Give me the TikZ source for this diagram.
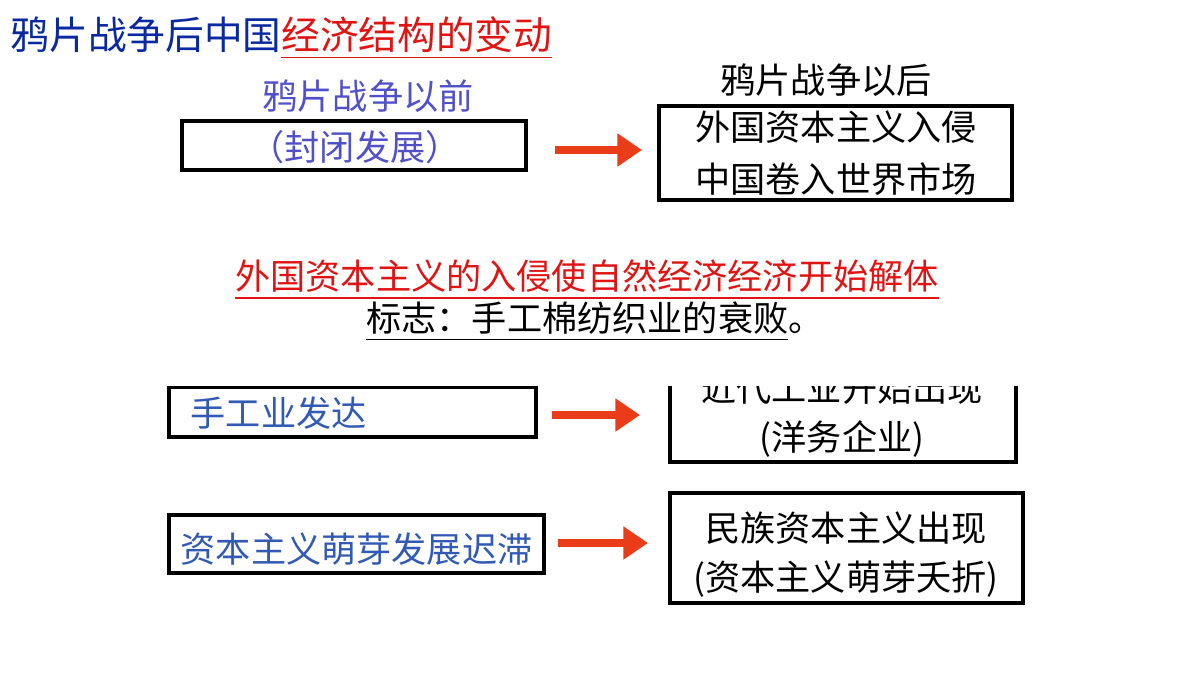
\documentclass[tikz,border=0pt]{standalone}
\usepackage{fontspec}
\setmainfont{Noto Sans CJK SC}
\usetikzlibrary{arrows.meta}
\definecolor{tblue}{RGB}{10,40,160}
\definecolor{lblue}{RGB}{80,80,200}
\definecolor{rblue}{RGB}{50,90,180}
\definecolor{tred}{RGB}{225,20,20}
\definecolor{aorange}{RGB}{235,60,25}
\tikzset{
 bx/.style={draw=black,line width=1.3pt},
 arr/.style={draw=aorange,line width=2.2pt,-{Triangle[length=7pt,width=9pt]}},
 t/.style={inner sep=0pt,font=\fontsize{10}{12}\selectfont},
}
\begin{document}
\begin{tikzpicture}[x=0.01cm,y=-0.01cm]
\useasboundingbox (0,0) rectangle (1200,675);
\node[t,anchor=west,font=\fontsize{11}{13}\selectfont] (title) at (10,38) {\textcolor{tblue}{鸦片战争后中国}\textcolor{tred}{\underline{经济结构的变动}}};
% row 1
\node[t,text=lblue] (l1) at (368,96) {鸦片战争以前};
\draw[bx] (182,121) rectangle (526,170);
\node[t,text=lblue] (b1) at (355,147) {（封闭发展）};
\node[t] (l2) at (826,80) {鸦片战争以后};
\draw[bx] (659,106) rectangle (1012,200);
\node[t] (b2a) at (836,127) {外国资本主义入侵};
\node[t] (b2b) at (836,179) {中国卷入世界市场};
\coordinate (a1s) at (555,150); \coordinate (a1e) at (642,150);
\draw[arr] (a1s) -- (a1e);
% middle
\node[t,text=tred] (s1) at (587,280) {\underline{外国资本主义的入侵使自然经济经济开始解体}};
\node[t] (s2) at (595,322) {\underline{标志：手工棉纺织业的衰败}。};
% row 3
\draw[bx] (169,387) rectangle (536,437);
\node[t,anchor=west,text=rblue] (r3l) at (190,413) {手工业发达};
\draw[bx] (670,360) rectangle (1016,462);
\node[t] (r3a) at (842,388) {近代工业开始出现};
\node[t] (r3b) at (842,439) {(洋务企业)};
\coordinate (a3s) at (552,415); \coordinate (a3e) at (640,415);
\draw[arr] (a3s) -- (a3e);
\fill[white] (150,345) rectangle (1050,385.5);
% row 4
\draw[bx] (169,515) rectangle (544,573);
\node[t,anchor=west,text=rblue] (r4l) at (180,549) {资本主义萌芽发展迟滞};
\draw[bx] (670,493) rectangle (1023,603);
\node[t] (r4a) at (846,528) {民族资本主义出现};
\node[t] (r4b) at (846,579) {(资本主义萌芽夭折)};
\coordinate (a4s) at (558,543); \coordinate (a4e) at (648,543);
\draw[arr] (a4s) -- (a4e);
\end{tikzpicture}
\end{document}
